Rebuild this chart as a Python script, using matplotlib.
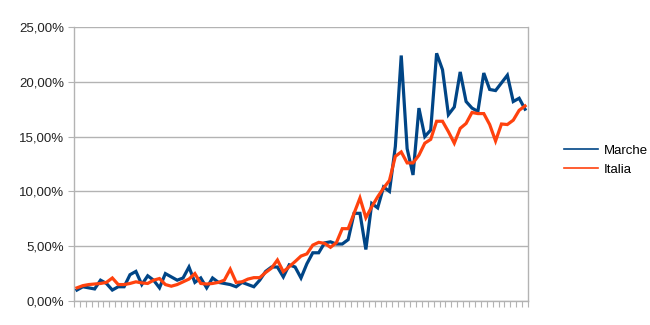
import numpy as np
import matplotlib.pyplot as plt
from matplotlib.ticker import FuncFormatter, FixedLocator

# 数据（百分比），每个点一个周期
marche = [1.0, 1.3, 1.2, 1.1, 1.9, 1.6, 1.0, 1.3, 1.3, 2.4,
          2.7, 1.5, 2.3, 1.9, 1.2, 2.5, 2.2, 1.9, 2.1, 3.1,
          1.7, 2.1, 1.2, 2.1, 1.7, 1.6, 1.5, 1.3, 1.7, 1.5,
          1.3, 1.9, 2.7, 3.1, 3.1, 2.2, 3.3, 3.1, 2.1, 3.4,
          4.4, 4.4, 5.3, 5.4, 5.2, 5.2, 5.6, 8.0, 8.0, 4.7,
          8.9, 8.5, 10.4, 10.0, 14.1, 22.4, 13.9, 11.5, 17.6, 15.0,
          15.6, 22.6, 21.1, 17.0, 17.7, 20.9, 18.2, 17.6, 17.3, 20.8,
          19.3, 19.2, 19.9, 20.6, 18.2, 18.5, 17.5]

italia = [1.2, 1.4, 1.5, 1.55, 1.6, 1.7, 2.1, 1.5, 1.5, 1.6,
          1.75, 1.65, 1.6, 1.9, 2.05, 1.5, 1.35, 1.5, 1.75, 2.0,
          2.5, 1.6, 1.55, 1.6, 1.7, 1.9, 2.9, 1.7, 1.75, 2.0,
          2.13, 2.13, 2.6, 3.0, 3.74, 2.67, 3.13, 3.6, 4.1, 4.3,
          5.1, 5.35, 5.26, 4.9, 5.32, 6.6, 6.6, 8.0, 9.4, 7.6,
          8.6, 9.5, 10.3, 11.0, 13.2, 13.6, 12.6, 12.6, 13.3, 14.4,
          14.75, 16.4, 16.4, 15.45, 14.4, 15.75, 16.2, 17.2, 17.1, 17.1,
          16.1, 14.6, 16.15, 16.1, 16.5, 17.4, 17.8]

labels = ['Marche', 'Italia']
colors = ['#004586', '#ff420e']
y_ticks = [0, 5, 10, 15, 20, 25]

plt.rcParams['font.family'] = ['Liberation Sans', 'DejaVu Sans']

fig = plt.figure(figsize=(6.5, 3.25), dpi=100)
ax = fig.add_axes([74 / 650, 24 / 325, 454 / 650, 274 / 325])

x = np.arange(len(marche))
for series, label, color in zip([marche, italia], labels, colors):
    ax.plot(x, series, color=color, lw=2.3, label=label,
            solid_joinstyle='miter', zorder=3)

ax.set_xlim(-0.5, len(marche) - 0.5)
ax.set_ylim(0, 25)

# 网格和坐标轴
grid_color = '#b3b3b3'
ax.set_yticks(y_ticks)
ax.yaxis.set_major_formatter(FuncFormatter(lambda v, p: f'{v:.2f}%'.replace('.', ',')))
ax.yaxis.grid(True, color=grid_color, lw=1.0)
ax.set_axisbelow(True)
ax.xaxis.set_major_locator(FixedLocator(np.arange(len(marche) + 1) - 0.5))
ax.set_xticklabels([])
ax.tick_params(axis='x', length=4, color=grid_color, width=0.8)
ax.tick_params(axis='y', length=4, color=grid_color, width=0.8,
               labelsize=9.5, pad=3, labelcolor='#222222')
for side in ['left', 'right', 'bottom']:
    ax.spines[side].set_color(grid_color)
    ax.spines[side].set_linewidth(1.0)
ax.spines['top'].set_visible(False)

# 图例
handles = [plt.Line2D([], [], color=c, lw=1.2) for c in colors]
fig.legend(handles, labels, loc='center left', bbox_to_anchor=(552 / 650, 1 - 160 / 325),
           frameon=False, fontsize=9.5, handlelength=2.6, handletextpad=0.4,
           labelspacing=0.5)

plt.savefig('out.png', dpi=100)
